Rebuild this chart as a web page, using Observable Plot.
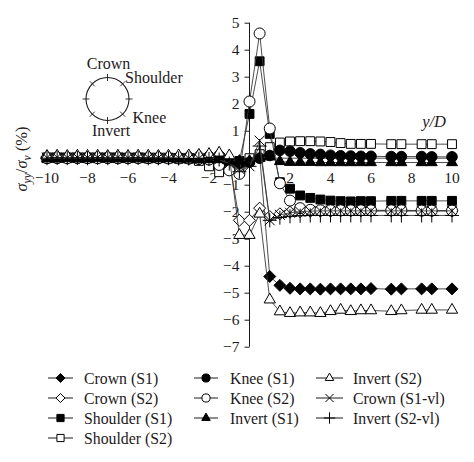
<!DOCTYPE html>
<html><head><meta charset="utf-8">
<script src="https://cdn.jsdelivr.net/npm/d3@7"></script>
<script src="https://cdn.jsdelivr.net/npm/@observablehq/plot@0.6"></script>
<style>
html,body{margin:0;padding:0;background:#fff;}
#chart{width:474px;height:462px;position:relative;overflow:hidden;font-family:"Liberation Serif","Times New Roman",serif;color:#231f20;}
#chart svg{display:block;}
</style></head><body><div id="chart"></div>
<script>
// ---- data ----
const xValues = [-10,-9.5,-9,-8.5,-8,-7.5,-7,-6.5,-6,-5.5,-5,-4.5,-4,-3.5,-3,-2.5,-2,
  -1.5,-1,-0.5,0,0.5,
  1,1.5,2,2.5,3,3.5,4,4.5,5,5.5,6,7,7.5,8.5,9,10];

const crownS1 = [0.02,0.02,0.01,0.02,0.01,0.02,0.01,0.01,0.02,0.01,0.01,0.0,0.0,-0.01,-0.02,-0.03,-0.05,
  -0.08,-0.15,-0.2,-0.1,0.1,
  -4.38,-4.71,-4.82,-4.84,-4.84,-4.85,-4.84,-4.84,-4.84,-4.84,-4.83,-4.85,-4.84,-4.84,-4.84,-4.84];
const crownS2 = [0.05,0.06,0.05,0.06,0.05,0.06,0.05,0.06,0.05,0.05,0.06,0.05,0.06,0.07,0.08,0.1,0.12,
  0.15,-0.1,-2.3,-2.3,-1.85,
  -2.16,-2.06,-2.0,-1.98,-1.97,-1.96,-1.96,-1.95,-1.95,-1.95,-1.95,-1.95,-1.95,-1.95,-1.95,-1.95];
const shoulderS1 = [0.0,0.01,0.0,0.01,0.0,0.0,0.01,0.0,0.0,0.0,-0.01,0.0,-0.01,-0.02,-0.02,-0.03,-0.05,
  -0.1,-0.15,-0.1,1.64,3.59,
  0.9,-0.89,-1.13,-1.38,-1.47,-1.53,-1.57,-1.59,-1.6,-1.59,-1.59,-1.58,-1.58,-1.58,-1.58,-1.58];
const shoulderS2 = [0.03,0.03,0.03,0.03,0.03,0.03,0.03,0.03,0.02,0.03,0.02,0.02,0.02,0.01,0.0,-0.1,-0.3,
  -0.52,-0.4,-0.3,0.0,0.15,
  0.41,0.58,0.62,0.63,0.63,0.62,0.6,0.56,0.53,0.53,0.53,0.52,0.52,0.52,0.52,0.52];
const kneeS1 = [0.0,0.0,0.01,0.0,0.0,0.01,0.0,0.0,0.0,0.0,0.0,-0.01,0.0,-0.01,-0.02,-0.03,-0.05,
  -0.2,-0.3,-0.2,-0.15,0.0,
  0.1,0.29,0.26,0.2,0.16,0.14,0.11,0.09,0.08,0.07,0.07,0.06,0.06,0.06,0.05,0.05];
const kneeS2 = [0.0,0.01,0.0,0.01,0.0,0.0,0.01,0.0,0.0,0.01,0.0,0.0,-0.01,-0.01,-0.01,-0.02,-0.05,
  -0.25,-0.45,-0.58,2.1,4.62,
  1.1,-0.93,-1.57,-1.85,-1.91,-1.93,-1.93,-1.93,-1.93,-1.93,-1.93,-1.93,-1.93,-1.94,-1.94,-1.94];
const invertS1 = [-0.02,-0.02,-0.01,-0.02,-0.02,-0.01,-0.02,-0.02,-0.02,-0.01,-0.02,-0.02,-0.02,-0.03,-0.03,-0.04,-0.05,
  -0.05,-0.1,-0.1,-0.1,0.0,
  0.05,-0.12,-0.15,-0.15,-0.15,-0.16,-0.16,-0.16,-0.16,-0.16,-0.16,-0.16,-0.16,-0.16,-0.16,-0.16];
const invertS2 = [0.08,0.09,0.08,0.09,0.08,0.09,0.08,0.09,0.08,0.09,0.09,0.08,0.09,0.1,0.1,0.12,0.15,
  0.2,0.1,-2.85,-2.85,-2.06,
  -5.24,-5.68,-5.74,-5.72,-5.72,-5.74,-5.67,-5.62,-5.67,-5.64,-5.64,-5.67,-5.64,-5.62,-5.62,-5.62];
const crownS1vl = [0.02,0.03,0.02,0.03,0.02,0.03,0.02,0.03,0.02,0.03,0.02,0.02,0.01,0.01,0.0,-0.01,-0.02,
  -0.05,-0.2,-0.4,-0.3,0.65,
  -2.3,-2.1,-2.02,-1.98,-1.96,-1.95,-1.95,-1.95,-1.95,-1.95,-1.95,-1.95,-1.95,-1.95,-1.95,-1.95];
const invertS2vl = [0.0,0.01,0.0,0.01,0.0,0.01,0.0,0.01,0.0,0.01,0.0,0.0,0.0,-0.01,-0.01,-0.02,-0.03,
  -0.05,-0.2,-0.5,-0.3,0.45,
  -2.3,-2.2,-2.15,-2.13,-2.12,-2.12,-2.12,-2.12,-2.12,-2.12,-2.12,-2.12,-2.12,-2.12,-2.12,-2.12];

const seriesNames = ["Crown (S1)","Crown (S2)","Shoulder (S1)","Shoulder (S2)","Knee (S1)","Knee (S2)",
  "Invert (S1)","Invert (S2)","Crown (S1-vl)","Invert (S2-vl)"];
const seriesValues = [crownS1,crownS2,shoulderS1,shoulderS2,kneeS1,kneeS2,invertS1,invertS2,crownS1vl,invertS2vl];

const xTicks = [-10,-8,-6,-4,-2,2,4,6,8,10];
const yTickLabels = [5,4,3,2,1,-1,-2,-3,-4,-5,-6,-7];
const yTickMarks = [5,4,3,2,1,0,-1,-2,-3,-4,-5,-6,-7];
const xDomain = [-10,10];
const yDomain = [-7,5];
const insetLabels = ["Crown","Shoulder","Knee","Invert"];

// ---- styles ----
const seriesSymbol = ["diamond2","diamond2","square","square","circle","circle","triangle2","triangle2","times","plus"];
const seriesFilled = [true,false,true,false,true,false,true,false,true,true];
const seriesR = [5.4,5.4,5,5,5.3,5.5,5.2,5.4,4.6,4.6];
const INK = "#1e1a1b";
const FONT = '"Liberation Serif","Times New Roman",serif';
const fmt = d => String(d).replace("-", "\u2212");

const rows = seriesNames.map((name,i)=> xValues.map((x,j)=>({series:name, x, y:seriesValues[i][j]})));

const leftTick = {draw(ctx){ ctx.moveTo(-5,0); ctx.lineTo(0,0); }};

const marks = [
  Plot.ruleY([0], {x1: xDomain[0], x2: xDomain[1], stroke: INK, strokeWidth: 0.8}),
  Plot.ruleX([0], {y1: yDomain[0], y2: yDomain[1], stroke: INK, strokeWidth: 1}),
  Plot.dot(yTickMarks, {x: 0, y: d=>d, symbol: leftTick, r: 3, stroke: INK, fill: "none", strokeWidth: 1}),
  Plot.text(yTickLabels, {x: 0, y: d=>d, text: fmt, textAnchor: "end", dx: -10, fontSize: 15.5, fill: INK}),
  Plot.text(xTicks, {x: d=>d, y: 0, text: fmt, dy: 20, fontSize: 15.5, fill: INK}),
  Plot.text(["y/D"], {frameAnchor: "top-right", text: d=>d, textAnchor: "end", dx: -6, dy: 92, fontSize: 16.5, fontStyle: "italic", fill: INK})
];
seriesNames.forEach((name,i)=>{
  const s = seriesSymbol[i];
  const isLine = s==="times"||s==="plus";
  marks.push(Plot.line(rows[i], {x:"x", y:"y", stroke:"#3a3a3a", strokeWidth: 0.9}));
  marks.push(Plot.dot(rows[i], {x:"x", y:"y", symbol: s, r: seriesR[i],
    fill: isLine ? "none" : (seriesFilled[i] ? "black" : "white"),
    stroke: "black", strokeWidth: 1}));
});

const plot = Plot.plot({
  width: 474, height: 360,
  marginLeft: 46.5, marginRight: 22.5, marginTop: 22.7, marginBottom: 13.3,
  x: {domain: xDomain, axis: null},
  y: {domain: yDomain, axis: null},
  style: {fontFamily: FONT, background: "white", color: INK, overflow: "visible"},
  marks
});
document.getElementById("chart").appendChild(plot);

// y-axis label with subscripts
const svg = d3.select(plot);
const yl = svg.append("text")
  .attr("transform", "translate(27,159) rotate(-90)")
  .attr("text-anchor", "middle")
  .attr("font-family", FONT).attr("font-size", 16.5).attr("fill", INK);
yl.append("tspan").attr("font-style","italic").text("\u03c3");
yl.append("tspan").attr("font-size", 11.5).attr("font-style","italic").attr("dy", 4).text("yy");
yl.append("tspan").attr("dy", -4).text("/");
yl.append("tspan").attr("font-style","italic").text("\u03c3");
yl.append("tspan").attr("font-size", 11.5).attr("font-style","italic").attr("dy", 4).text("v");
yl.append("tspan").attr("dy", -4).text(" (%)");

// inset schematic of the tunnel section
const cx = 107.5, cy = 99, cr = 21.5;
const g = svg.append("g").attr("stroke", INK).attr("fill", "none");
g.append("circle").attr("cx", cx).attr("cy", cy).attr("r", cr).attr("stroke-width", 1.1);
d3.range(8).forEach(k=>{
  const a = k*Math.PI/4;
  g.append("line")
    .attr("x1", cx + (cr-3.5)*Math.cos(a)).attr("y1", cy + (cr-3.5)*Math.sin(a))
    .attr("x2", cx + (cr+3.5)*Math.cos(a)).attr("y2", cy + (cr+3.5)*Math.sin(a))
    .attr("stroke-width", 0.9);
});
const insetPos = [[cx+1, cy-36, "middle"], [cx+17.5, cy-22, "start"], [cx+25, cy+18, "start"], [cx+3.5, cy+31, "middle"]];
insetLabels.forEach((t,k)=>{
  svg.append("text").attr("x", insetPos[k][0]).attr("y", insetPos[k][1]).attr("dy","0.35em")
    .attr("text-anchor", insetPos[k][2]).attr("font-family", FONT).attr("font-size", 16).attr("fill", INK).text(t);
});

// legend below the plot
const symMap = {diamond2: d3.symbolDiamond2, square: d3.symbolSquare, circle: d3.symbolCircle,
  triangle2: d3.symbolTriangle2, times: d3.symbolTimes, plus: d3.symbolPlus};
const legendOrder = [[0,1,2,3],[4,5,6],[7,8,9]];
const colX = [[48,73,84],[194,218,230],[316,343,353]];
const leg = d3.select("#chart").append("svg").attr("width", 474).attr("height", 102);
legendOrder.forEach((col,c)=>{
  col.forEach((i,r)=>{
    const y = 18 + r*20;
    const [x1,x2,tx] = colX[c];
    leg.append("line").attr("x1",x1).attr("x2",x2).attr("y1",y).attr("y2",y).attr("stroke", INK).attr("stroke-width",1);
    const s = seriesSymbol[i];
    const isLine = s==="times"||s==="plus";
    leg.append("path").attr("transform",`translate(${(x1+x2)/2},${y})`)
      .attr("d", d3.symbol(symMap[s], isLine ? 44 : 52)())
      .attr("fill", isLine ? "none" : (seriesFilled[i] ? "black" : "white"))
      .attr("stroke", "black").attr("stroke-width", 1);
    leg.append("text").attr("x", tx).attr("y", y).attr("dy","0.35em")
      .attr("font-family", FONT).attr("font-size", 15.8).attr("fill", INK).text(seriesNames[i]);
  });
});
</script></body></html>
